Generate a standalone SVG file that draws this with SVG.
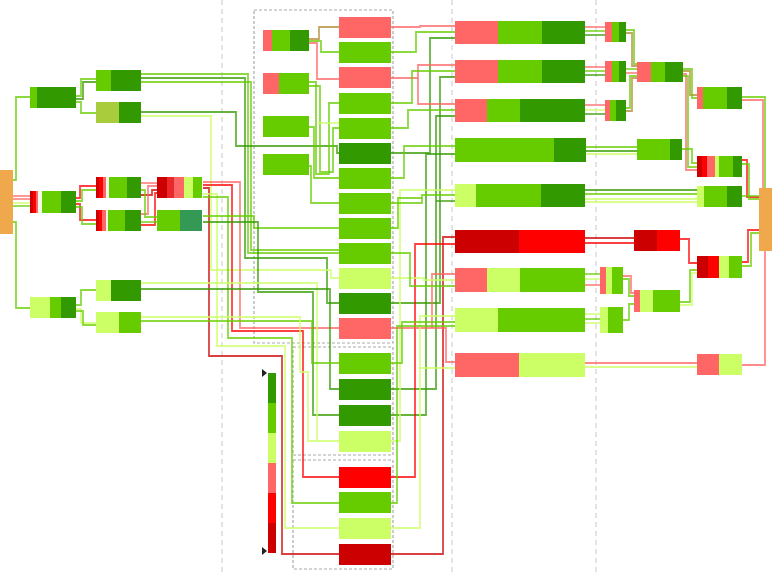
<svg xmlns="http://www.w3.org/2000/svg" width="772" height="576" viewBox="0 0 772 576">
<style>
.c path{fill:none;stroke-width:1.8;stroke-opacity:.75}
.dg{stroke:#339900}.mg{stroke:#66cc00}.lg{stroke:#ccff66}.lr{stroke:#ff6666}.rd{stroke:#ff0000}.dr{stroke:#cc0000}.ol{stroke:#b08a30}
.fdg{fill:#339900}.fmg{fill:#66cc00}.flg{fill:#ccff66}.flr{fill:#ff6666}.frd{fill:#ff0000}.fdr{fill:#cc0000}.for{fill:#f0a84c}.fol{fill:#a8cc3c}.fte{fill:#339955}.frd2{fill:#e82a2a}.fwh{fill:#f2f8ea}
.sep{stroke:#c8c8c8;stroke-width:1;stroke-dasharray:5,4;fill:none}
.box{stroke:#aaaaaa;stroke-width:1.2;stroke-dasharray:3,2;fill:none}
</style>
<g id="guides">
<line class="sep" x1="222" y1="0" x2="222" y2="576"/>
<line class="sep" x1="452" y1="0" x2="452" y2="576"/>
<line class="sep" x1="596" y1="0" x2="596" y2="576"/>
<rect class="box" x="254" y="10" width="139" height="333"/>
<rect class="box" x="293" y="347" width="100" height="108"/>
<rect class="box" x="293" y="460" width="100" height="109"/>
</g>
<g id="connectors" class="c">
<!-- left tree -->
<path class="mg" d="M13,180 H16 V97 H30"/>
<path class="mg" d="M13,222 H16 V308 H30"/>
<path class="lr" d="M13,196 H30"/><path class="lr" d="M13,199 H30"/><path class="lg" d="M13,203 H30"/><path class="mg" d="M13,206 H30"/>
<path class="mg" d="M76,96 H81 V79 H96"/><path class="dg" d="M76,99 H83 V82 H96"/>
<path class="mg" d="M76,102 H81 V113 H96"/>
<path class="rd" d="M76,198 H80 V186 H96"/><path class="mg" d="M76,201 H82 V190 H96"/>
<path class="rd" d="M76,204 H80 V220 H96"/><path class="mg" d="M76,207 H82 V224 H96"/>
<path class="lr" d="M141,183 H157"/>
<path class="dr" d="M141,195 H152 V190 H157"/>
<path class="rd" d="M141,225 H155 V193 H157"/>
<path class="lr" d="M141,214 H148 V186 H157"/>
<path class="mg" d="M141,222 H157"/>
<path class="mg" d="M141,190 H145 V217 H157"/>
<path class="mg" d="M76,305 H81 V290 H96"/><path class="lg" d="M76,309 H81 V323 H96"/><path class="mg" d="M76,311 H83 V325 H96"/>
<!-- left to middle -->
<path class="mg" d="M141,74 H248 V253 H339"/>
<path class="dg" d="M141,78 H245 V258 H327 V303 H339"/>
<path class="mg" d="M141,82 H251 V250 H339"/>
<path class="dg" d="M141,112 H236 V146 H337 V153 H339"/>
<path class="lg" d="M141,116 H211 V270 H331 V278 H339"/>
<path class="lr" d="M203,182 H240 V328 H339"/>
<path class="rd" d="M203,185 H232 V331 H303 V477 H339"/>
<path class="dr" d="M203,188 H209 V356 H282 V554 H339"/>
<path class="lg" d="M203,194 H217 V346 H285 V528 H339"/>
<path class="mg" d="M203,197 H228 V338 H292 V503 H339"/>
<path class="mg" d="M203,216 H254 V228 H339"/>
<path class="dg" d="M203,222 H258 V292 H313 V415 H339"/>
<path class="lg" d="M141,283 H317 V441 H339"/>
<path class="dg" d="M141,289 H330 V389 H339"/>
<path class="mg" d="M141,321 H312 V363 H339"/>
<path class="lg" d="M141,317 H300 V372 H308 V441 H317"/>
<path class="ol" d="M309,39 H319 V27 H339"/>
<path class="mg" d="M309,41 H321 V52 H339"/>
<path class="lr" d="M309,43 H317 V79 H339"/>
<path class="mg" d="M309,82 H316 V174 H329 V103 H339"/>
<path class="mg" d="M309,86 H320 V172 H333 V128 H339"/>
<path class="lg" d="M318,123 H339"/>
<path class="mg" d="M309,127 H314 V178 H339"/>
<path class="mg" d="M309,166 H311 V203 H339"/>
<!-- middle to right -->
<path class="lr" d="M391,27 H420 V26 H455"/>
<path class="mg" d="M391,52 H416 V32 H455"/>
<path class="dg" d="M391,153 H430 V38 H455"/>
<path class="lr" d="M391,78 H418 V65 H455"/>
<path class="mg" d="M391,103 H412 V71 H455"/>
<path class="dg" d="M391,303 H440 V77 H455"/>
<path class="lr" d="M418,78 V104 H455"/>
<path class="mg" d="M391,128 H408 V110 H455"/>
<path class="dg" d="M391,389 H436 V116 H455"/>
<path class="mg" d="M391,178 H404 V146 H455"/>
<path class="dg" d="M391,415 H426 V154 H455"/>
<path class="lg" d="M391,441 H400 V190 H455"/>
<path class="mg" d="M391,203 H422 V195 H455"/>
<path class="dg" d="M436,201 H455"/>
<path class="mg" d="M391,228 H398 V198 H422"/>
<path class="dr" d="M391,554 H443 V237 H455"/>
<path class="rd" d="M391,477 H415 V244 H455"/>
<path class="lr" d="M391,328 H446 V362 H455"/>
<path class="lr" d="M432,328 V274 H455"/>
<path class="lg" d="M391,278 H424 V280 H455"/>
<path class="mg" d="M391,253 H410 V286 H455"/>
<path class="lg" d="M391,528 H420 V316 H455"/>
<path class="mg" d="M391,363 H402 V322 H455"/>
<path class="mg" d="M391,503 H397 V326 H455"/>
<path class="lg" d="M420,368 H455"/>
<!-- right tree -->
<path class="lr" d="M585,27 H605"/><path class="mg" d="M585,31 H605"/><path class="dg" d="M585,35 H605"/>
<path class="lr" d="M585,67 H605"/><path class="mg" d="M585,71 H605"/><path class="dg" d="M585,75 H605"/>
<path class="lr" d="M585,105 H605"/><path class="lg" d="M585,110 H605"/><path class="dg" d="M585,114 H605"/>
<path class="mg" d="M585,147 H637"/><path class="dg" d="M585,151 H637"/><path class="lg" d="M585,154 H637"/>
<path class="dg" d="M585,190 H697"/><path class="mg" d="M585,194 H697"/><path class="lg" d="M585,199 H697"/><path class="lg" d="M585,202 H697"/>
<path class="dr" d="M585,238 H634"/><path class="rd" d="M585,243 H634"/>
<path class="mg" d="M585,274 H600"/><path class="lg" d="M585,279 H600"/><path class="lr" d="M585,285 H600"/>
<path class="lg" d="M585,314 H600"/><path class="mg" d="M585,319 H600"/><path class="lg" d="M585,323 H600"/>
<path class="lr" d="M585,363 H697"/><path class="lg" d="M585,367 H697"/>
<path class="mg" d="M626,30 H634 V64 H637"/><path class="ol" d="M626,33 H632 V66 H637"/>
<path class="mg" d="M626,69 H637"/><path class="lr" d="M626,73 H637"/>
<path class="ol" d="M626,111 H632 V78 H637"/><path class="mg" d="M626,108 H630 V76 H637"/>
<path class="ol" d="M683,71 H690 V95 H697"/><path class="mg" d="M683,69 H692 V98 H697"/>
<path class="lr" d="M683,74 H686 V170 H697"/><path class="mg" d="M683,76 H688 V167 H697"/>
<path class="mg" d="M682,149 H692 V163 H697"/>
<path class="rd" d="M680,239 H689 V263 H697"/>
<path class="mg" d="M680,302 H690 V270 H697"/><path class="lg" d="M680,305 H692 V273 H697"/>
<path class="mg" d="M623,279 H629 V296 H634"/><path class="lr" d="M623,276 H631 V293 H634"/>
<path class="mg" d="M623,320 H629 V304 H634"/>
<path class="mg" d="M742,97 H765 V188"/><path class="lr" d="M742,100 H763 V188"/>
<path class="rd" d="M742,160 H747 V197 H759"/><path class="mg" d="M742,164 H749 V199 H759"/>
<path class="mg" d="M742,196 H759"/>
<path class="rd" d="M742,262 H748 V230 H759"/><path class="mg" d="M742,266 H751 V233 H759"/>
<path class="lr" d="M742,365 H765 V251"/>
</g>
<g id="root-left"><rect class="for" x="0" y="170" width="13" height="64"/></g>
<g id="nodeA"><rect class="fmg" x="30" y="87" width="7" height="21"/><rect class="fdg" x="37" y="87" width="39" height="21"/></g>
<g id="nodeA1"><rect class="fmg" x="96" y="70" width="15" height="21"/><rect class="fdg" x="111" y="70" width="30" height="21"/></g>
<g id="nodeA2"><rect class="fol" x="96" y="102" width="23" height="21"/><rect class="fdg" x="119" y="102" width="22" height="21"/></g>
<g id="nodeB"><rect class="fdr" x="30" y="191" width="3" height="22"/><rect class="frd" x="33" y="191" width="3" height="22"/><rect class="flr" x="36" y="191" width="2" height="22"/><rect class="fwh" x="38" y="191" width="4" height="22"/><rect class="fmg" x="42" y="191" width="19" height="22"/><rect class="fdg" x="61" y="191" width="15" height="22"/></g>
<g id="nodeB1"><rect class="fdr" x="96" y="177" width="3" height="21"/><rect class="frd" x="99" y="177" width="4" height="21"/><rect class="flr" x="103" y="177" width="3" height="21"/><rect class="fwh" x="106" y="177" width="3" height="21"/><rect class="fmg" x="109" y="177" width="18" height="21"/><rect class="fdg" x="127" y="177" width="14" height="21"/></g>
<g id="nodeB2"><rect class="fdr" x="96" y="210" width="3" height="21"/><rect class="frd" x="99" y="210" width="3" height="21"/><rect class="flr" x="102" y="210" width="4" height="21"/><rect class="fwh" x="106" y="210" width="2" height="21"/><rect class="fmg" x="108" y="210" width="17" height="21"/><rect class="fdg" x="125" y="210" width="16" height="21"/></g>
<g id="nodeB1x"><rect class="fdr" x="157" y="177" width="10" height="21"/><rect class="frd2" x="167" y="177" width="7" height="21"/><rect class="flr" x="174" y="177" width="10" height="21"/><rect class="flg" x="184" y="177" width="9" height="21"/><rect class="fmg" x="193" y="177" width="9" height="21"/></g>
<g id="nodeB2x"><rect class="fmg" x="157" y="210" width="23" height="21"/><rect class="fte" x="180" y="210" width="22" height="21"/></g>
<g id="nodeC"><rect class="flg" x="30" y="297" width="20" height="21"/><rect class="fmg" x="50" y="297" width="11" height="21"/><rect class="fdg" x="61" y="297" width="15" height="21"/></g>
<g id="nodeC1"><rect class="flg" x="96" y="280" width="15" height="21"/><rect class="fdg" x="111" y="280" width="30" height="21"/></g>
<g id="nodeC2"><rect class="flg" x="96" y="312" width="23" height="21"/><rect class="fmg" x="119" y="312" width="22" height="21"/></g>
<g id="sn1"><rect class="flr" x="263" y="30" width="9" height="21"/><rect class="fmg" x="272" y="30" width="18" height="21"/><rect class="fdg" x="290" y="30" width="19" height="21"/></g>
<g id="sn2"><rect class="flr" x="263" y="73" width="16" height="21"/><rect class="fmg" x="279" y="73" width="30" height="21"/></g>
<g id="sn3"><rect class="fmg" x="263" y="116" width="46" height="21"/></g>
<g id="sn4"><rect class="fmg" x="263" y="154" width="46" height="21"/></g>
<g id="n1"><rect class="flr" x="339" y="17" width="52" height="21"/></g>
<g id="n2"><rect class="fmg" x="339" y="42" width="52" height="21"/></g>
<g id="n3"><rect class="flr" x="339" y="67" width="52" height="21"/></g>
<g id="n4"><rect class="fmg" x="339" y="93" width="52" height="21"/></g>
<g id="n5"><rect class="fmg" x="339" y="118" width="52" height="21"/></g>
<g id="n6"><rect class="fdg" x="339" y="143" width="52" height="21"/></g>
<g id="n7"><rect class="fmg" x="339" y="168" width="52" height="21"/></g>
<g id="n8"><rect class="fmg" x="339" y="193" width="52" height="21"/></g>
<g id="n9"><rect class="fmg" x="339" y="218" width="52" height="21"/></g>
<g id="n10"><rect class="fmg" x="339" y="243" width="52" height="21"/></g>
<g id="n11"><rect class="flg" x="339" y="268" width="52" height="21"/></g>
<g id="n12"><rect class="fdg" x="339" y="293" width="52" height="21"/></g>
<g id="n13"><rect class="flr" x="339" y="318" width="52" height="21"/></g>
<g id="n14"><rect class="fmg" x="339" y="353" width="52" height="21"/></g>
<g id="n15"><rect class="fdg" x="339" y="379" width="52" height="21"/></g>
<g id="n16"><rect class="fdg" x="339" y="405" width="52" height="21"/></g>
<g id="n17"><rect class="flg" x="339" y="431" width="52" height="21"/></g>
<g id="n18"><rect class="frd" x="339" y="467" width="52" height="21"/></g>
<g id="n19"><rect class="fmg" x="339" y="492" width="52" height="21"/></g>
<g id="n20"><rect class="flg" x="339" y="518" width="52" height="21"/></g>
<g id="n21"><rect class="fdr" x="339" y="544" width="52" height="21"/></g>
<g id="r1"><rect class="flr" x="455" y="21" width="43" height="23"/><rect class="fmg" x="498" y="21" width="44" height="23"/><rect class="fdg" x="542" y="21" width="43" height="23"/></g>
<g id="r2"><rect class="flr" x="455" y="60" width="43" height="23"/><rect class="fmg" x="498" y="60" width="44" height="23"/><rect class="fdg" x="542" y="60" width="43" height="23"/></g>
<g id="r3"><rect class="flr" x="455" y="99" width="32" height="23"/><rect class="fmg" x="487" y="99" width="33" height="23"/><rect class="fdg" x="520" y="99" width="65" height="23"/></g>
<g id="r4"><rect class="fmg" x="455" y="138" width="99" height="24"/><rect class="fdg" x="554" y="138" width="32" height="24"/></g>
<g id="r5"><rect class="flg" x="455" y="184" width="21" height="23"/><rect class="fmg" x="476" y="184" width="65" height="23"/><rect class="fdg" x="541" y="184" width="44" height="23"/></g>
<g id="r6"><rect class="fdr" x="455" y="230" width="64" height="23"/><rect class="frd" x="519" y="230" width="66" height="23"/></g>
<g id="r7"><rect class="flr" x="455" y="268" width="32" height="24"/><rect class="flg" x="487" y="268" width="33" height="24"/><rect class="fmg" x="520" y="268" width="65" height="24"/></g>
<g id="r8"><rect class="flg" x="455" y="308" width="43" height="24"/><rect class="fmg" x="498" y="308" width="87" height="24"/></g>
<g id="r9"><rect class="flr" x="455" y="353" width="64" height="24"/><rect class="flg" x="519" y="353" width="66" height="24"/></g>
<g id="s1"><rect class="flr" x="605" y="22" width="7" height="20"/><rect class="fmg" x="612" y="22" width="7" height="20"/><rect class="fdg" x="619" y="22" width="7" height="20"/></g>
<g id="s2"><rect class="flr" x="605" y="61" width="7" height="21"/><rect class="fmg" x="612" y="61" width="7" height="21"/><rect class="fdg" x="619" y="61" width="7" height="21"/></g>
<g id="s3"><rect class="flr" x="605" y="100" width="5" height="21"/><rect class="fmg" x="610" y="100" width="6" height="21"/><rect class="fdg" x="616" y="100" width="10" height="21"/></g>
<g id="s4"><rect class="fmg" x="637" y="139" width="33" height="21"/><rect class="fdg" x="670" y="139" width="12" height="21"/></g>
<g id="s5"><rect class="fdr" x="634" y="230" width="23" height="21"/><rect class="frd" x="657" y="230" width="23" height="21"/></g>
<g id="s6"><rect class="flr" x="600" y="267" width="6" height="27"/><rect class="flg" x="606" y="267" width="6" height="27"/><rect class="fmg" x="612" y="267" width="11" height="27"/></g>
<g id="s7"><rect class="flg" x="600" y="307" width="8" height="26"/><rect class="fmg" x="608" y="307" width="15" height="26"/></g>
<g id="s8"><rect class="flr" x="634" y="290" width="6" height="22"/><rect class="flg" x="640" y="290" width="13" height="22"/><rect class="fmg" x="653" y="290" width="27" height="22"/></g>
<g id="t1"><rect class="flr" x="637" y="62" width="14" height="20"/><rect class="fmg" x="651" y="62" width="14" height="20"/><rect class="fdg" x="665" y="62" width="18" height="20"/></g>
<g id="u1"><rect class="flr" x="697" y="87" width="6" height="22"/><rect class="fmg" x="703" y="87" width="24" height="22"/><rect class="fdg" x="727" y="87" width="15" height="22"/></g>
<g id="u2"><rect class="fdr" x="697" y="156" width="5" height="21"/><rect class="frd" x="702" y="156" width="5" height="21"/><rect class="flr" x="707" y="156" width="8" height="21"/><rect class="flg" x="715" y="156" width="4" height="21"/><rect class="fmg" x="719" y="156" width="14" height="21"/><rect class="fdg" x="733" y="156" width="9" height="21"/></g>
<g id="u3"><rect class="flg" x="697" y="186" width="7" height="21"/><rect class="fmg" x="704" y="186" width="23" height="21"/><rect class="fdg" x="727" y="186" width="15" height="21"/></g>
<g id="u4"><rect class="fdr" x="697" y="256" width="11" height="22"/><rect class="frd" x="708" y="256" width="11" height="22"/><rect class="flg" x="719" y="256" width="10" height="22"/><rect class="fmg" x="729" y="256" width="13" height="22"/></g>
<g id="u5"><rect class="flr" x="697" y="354" width="22" height="21"/><rect class="flg" x="719" y="354" width="23" height="21"/></g>
<g id="root-right"><rect class="for" x="759" y="188" width="13" height="63"/></g>
<g id="legend">
<rect class="fdg" x="268" y="373" width="8" height="30"/>
<rect class="fmg" x="268" y="403" width="8" height="30"/>
<rect class="flg" x="268" y="433" width="8" height="30"/>
<rect class="flr" x="268" y="463" width="8" height="30"/>
<rect class="frd" x="268" y="493" width="8" height="30"/>
<rect class="fdr" x="268" y="523" width="8" height="30"/>
<polygon points="262,369 267,373 262,377" fill="#222"/>
<polygon points="262,547 267,551 262,555" fill="#222"/>
</g>
</svg>
